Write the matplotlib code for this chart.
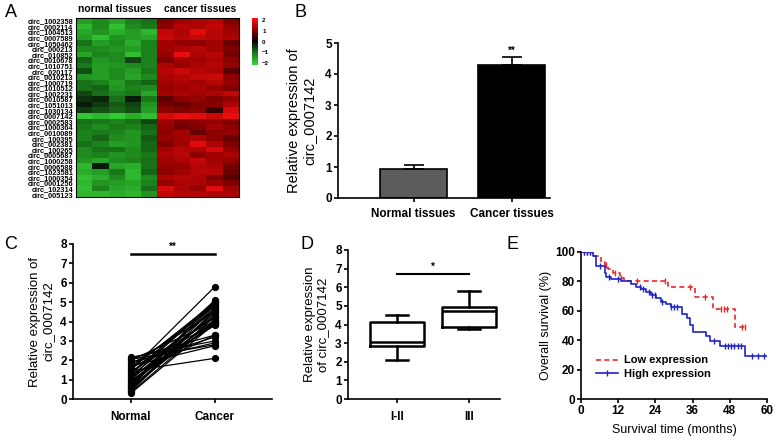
import numpy as np
import matplotlib.pyplot as plt
from matplotlib.colors import LinearSegmentedColormap

plt.rcParams['font.family'] = ['Liberation Sans', 'DejaVu Sans']
plt.rcParams['font.weight'] = 'bold'
plt.rcParams['axes.linewidth'] = 1.2

# ---- data ----
# A: heatmap
circ_names = ["circ_1002358", "circ_0002114", "circ_1004513", "circ_0007589", "circ_1050462",
              "circ_000213", "circ_010852", "circ_0010678", "circ_1010751", "circ_020117",
              "circ_0010213", "circ_1000719", "circ_1010512", "circ_1002231", "circ_0010587",
              "circ_1051013", "circ_1030134", "circ_0007142", "circ_0002583", "circ_1000364",
              "circ_0010089", "circ_100395", "circ_002381", "circ_100265", "circ_0005687",
              "circ_1000258", "circ_0006588", "circ_1023581", "circ_1000354", "circ_0001256",
              "circ_102314", "circ_005123"]
hm_values = [
    [-1.5, -1.3, -1.6, -1.2, -1.0, 1.0, 1.3, 1.4, 1.5, 1.0],
    [-1.8, -1.3, -1.9, -1.3, -1.1, 1.1, 1.5, 1.4, 1.6, 1.2],
    [-1.6, -1.4, -1.7, -1.5, -1.8, 1.6, 1.4, 1.9, 1.5, 1.3],
    [-1.5, -1.9, -1.4, -1.5, -1.6, 1.7, 1.5, 1.6, 1.5, 1.4],
    [-1.0, -1.5, -1.3, -1.7, -1.2, 1.3, 1.2, 1.1, 1.3, 0.8],
    [-1.3, -1.3, -1.4, -1.5, -1.2, 1.3, 1.4, 1.5, 1.3, 1.0],
    [-1.6, -1.2, -1.3, -1.9, -1.2, 1.2, 2.0, 1.4, 1.5, 0.9],
    [-0.9, -1.4, -1.3, -0.6, -1.2, 1.0, 1.3, 1.3, 1.4, 1.1],
    [-1.1, -1.5, -1.4, -1.3, -1.2, 1.4, 1.2, 1.4, 1.5, 1.2],
    [-0.7, -1.5, -1.3, -1.5, -1.1, 1.5, 1.7, 1.5, 1.4, 0.7],
    [-1.4, -1.5, -1.3, -1.6, -1.3, 1.4, 1.5, 1.6, 1.7, 1.1],
    [-1.0, -1.2, -1.5, -1.1, -0.9, 1.3, 1.4, 1.3, 1.5, 1.2],
    [-1.0, -0.9, -1.4, -1.2, -1.3, 1.2, 1.3, 1.4, 1.2, 1.0],
    [-0.6, -1.0, -1.2, -1.1, -1.6, 1.3, 1.4, 1.3, 1.4, 1.6],
    [-0.4, -0.3, -1.0, -0.2, -1.1, 0.7, 1.1, 1.2, 1.0, 1.2],
    [-0.2, -0.5, -0.8, -0.6, -1.4, 0.9, 0.8, 1.0, 1.1, 1.4],
    [-0.5, -0.7, -0.9, -0.7, -1.5, 1.1, 1.0, 1.1, 0.4, 1.8],
    [-2.0, -1.8, -2.0, -1.7, -1.9, 1.8, 2.0, 1.9, 1.7, 2.0],
    [-1.0, -1.1, -1.2, -1.0, -0.6, 1.3, 1.0, 1.1, 1.2, 1.0],
    [-1.1, -1.3, -1.1, -1.2, -0.9, 1.2, 0.9, 1.0, 1.3, 1.1],
    [-1.2, -1.1, -1.2, -1.4, -1.0, 1.1, 1.3, 0.8, 1.1, 1.2],
    [-1.2, -0.9, -1.3, -1.4, -0.8, 1.2, 1.3, 1.4, 1.1, 0.8],
    [-1.0, -1.2, -1.5, -1.4, -0.9, 1.0, 1.3, 1.9, 1.4, 1.0],
    [-1.3, -1.0, -1.0, -1.3, -0.9, 1.3, 1.5, 1.4, 1.8, 1.2],
    [-1.3, -1.2, -1.4, -1.3, -1.1, 1.4, 1.5, 1.1, 1.3, 1.4],
    [-1.4, -1.6, -1.3, -1.2, -1.0, 1.3, 1.4, 1.6, 1.3, 1.2],
    [-1.8, -0.2, -1.6, -1.7, -1.0, 1.2, 1.2, 1.5, 1.4, 0.9],
    [-1.7, -1.5, -1.1, -1.8, -0.9, 1.1, 1.3, 1.5, 1.5, 0.8],
    [-1.9, -1.7, -1.3, -1.8, -1.3, 1.4, 1.5, 1.4, 1.0, 0.7],
    [-1.8, -1.4, -1.5, -1.6, -1.2, 1.2, 1.4, 1.4, 1.2, 1.0],
    [-1.9, -1.2, -1.6, -1.7, -1.0, 1.8, 1.4, 1.2, 1.9, 1.3],
    [-1.8, -1.8, -1.7, -1.8, -1.4, 1.6, 1.5, 1.5, 1.4, 1.4],
]
cbar_ticks = [2, 1, 0, -1, -2]

# B: bar chart
b_groups = ["Normal tissues", "Cancer tissues"]
b_means = [0.92, 4.3]
b_err = [0.13, 0.25]

# C: paired samples
c_groups = ["Normal", "Cancer"]
c_normal = [2.15, 2.1, 2.05, 2.0, 1.9, 1.85, 1.8, 1.7, 1.65, 1.6, 1.5, 1.45, 1.4, 1.35,
            1.3, 1.2, 1.15, 1.1, 1.05, 1.0, 0.95, 0.9, 0.85, 0.8, 0.75, 0.7, 0.65, 0.6,
            0.55, 0.5, 0.45, 0.4, 0.35, 0.3, 1.55, 1.25]
c_cancer = [3.0, 3.3, 2.8, 4.0, 2.9, 3.2, 4.5, 2.75, 4.8, 3.9, 5.8, 2.1, 4.2, 5.0,
            4.9, 4.6, 3.8, 5.1, 4.3, 4.7, 4.0, 3.85, 4.1, 4.95, 4.4, 4.85, 3.95, 5.05,
            4.5, 4.25, 4.75, 4.6, 4.05, 3.9, 5.0, 3.3]

# D: box plot by stage
d_groups = ["I-II", "III"]
d_whislo = [2.1, 3.78]
d_q1 = [2.85, 3.85]
d_med = [3.08, 4.72]
d_q3 = [4.15, 4.92]
d_whishi = [4.5, 5.78]

# E: Kaplan-Meier
low_t = [0, 3.9, 6.3, 7.6, 8.7, 10.3, 12.5, 14, 28.2, 36.8, 42.7, 49.7, 53.2]
low_s = [100, 97.5, 93.4, 91, 88.4, 85.5, 82, 80, 76, 69.5, 61, 49, 49]
low_cens = [1, 2, 3, 8, 11, 13, 18, 27, 35, 40, 45, 46, 47, 52, 53]
high_t = [0, 3.9, 4.9, 7.6, 8.2, 9.7, 12.9, 16, 17.7, 19.4, 21, 22.6, 24.2, 25.8, 27.4,
          29, 32.5, 34.1, 35.2, 36.2, 40.3, 41.6, 44.8, 52.9, 60]
high_s = [100, 97, 90.5, 85.5, 83.2, 81.5, 80, 78, 76.4, 75, 73, 70.7, 68.5, 66.2, 64.4,
          62.8, 58, 55, 50.3, 45.5, 43, 39.7, 36, 29.3, 29.3]
high_cens = [1, 2, 3, 6, 9, 12, 19, 20, 22, 23, 24, 26, 29, 30, 31, 43, 46.5, 47.5, 48.5,
             49.5, 50.5, 51.5, 55, 57, 59]

W, H = 777, 446
fig = plt.figure(figsize=(W / 100, H / 100), dpi=100)


def px_axes(x0, y0, x1, y1):
    return fig.add_axes([x0 / W, 1 - y1 / H, (x1 - x0) / W, (y1 - y0) / H])


def style(ax):
    ax.spines['top'].set_visible(False)
    ax.spines['right'].set_visible(False)
    ax.tick_params(direction='out', length=3, width=1.2, labelsize=8.5, pad=1.5)


# panel letters
for lab, x, y in [("A", 5, 4), ("B", 294, 4), ("C", 4, 236), ("D", 300, 236), ("E", 506, 236)]:
    fig.text(x / W, 1 - y / H, lab, fontsize=13, fontweight='normal', va='top', ha='left')

# ---- A ----
cmap = LinearSegmentedColormap.from_list("gkr", ["#3ad83a", "#1a7a1a", "#050505", "#8c0000", "#ff1010"])
axA = px_axes(76, 18, 239, 197)
data = np.array(hm_values)
im = axA.imshow(data, cmap=cmap, vmin=-2.2, vmax=2.2, aspect='auto', interpolation='nearest')
axA.set_xticks([])
axA.set_yticks(range(len(circ_names)))
axA.set_yticklabels(circ_names, fontsize=5.3)
axA.tick_params(axis='y', length=0, pad=2)
for s in axA.spines.values():
    s.set_linewidth(0.8)
axA.text(1.9, -1.2, "normal tissues", ha='center', va='bottom', fontsize=7.5)
axA.text(7.1, -1.2, "cancer tissues", ha='center', va='bottom', fontsize=7.5)

axCb = px_axes(252, 18, 258, 65)
cb = fig.colorbar(im, cax=axCb, ticks=cbar_ticks)
cb.outline.set_visible(False)
cb.ax.tick_params(length=0, labelsize=4.5, pad=3)

# ---- B ----
axB = px_axes(338, 43, 550, 198)
style(axB)
xb = np.arange(len(b_groups))
axB.bar(xb, b_means, width=0.68, color=["#5c5c5c", "black"], edgecolor='black', linewidth=1.2)
axB.errorbar(xb, b_means, yerr=[[0, 0], b_err], fmt='none', ecolor='black', elinewidth=1.2,
             capsize=7, capthick=1.2)
axB.text(1, b_means[1] + b_err[1] + 0.05, "**", ha='center', va='bottom', fontsize=7)
axB.set_xlim(-0.77, 1.39)
axB.set_ylim(0, 5)
axB.set_yticks(range(0, 6))
axB.set_xticks(xb)
axB.set_xticklabels(b_groups)
axB.tick_params(axis='x', pad=4)
axB.set_ylabel("Relative expression of\ncirc_0007142", fontsize=10.5, labelpad=6)

# ---- C ----
axC = px_axes(73, 244, 272, 399)
style(axC)
for n, c in zip(c_normal, c_cancer):
    axC.plot([0, 1], [n, c], color='black', lw=0.9, marker='o', ms=4.2, mfc='black', mec='black')
axC.plot([0, 1], [7.5, 7.5], color='black', lw=1.8)
axC.text(0.5, 7.6, "**", ha='center', va='bottom', fontsize=7)
axC.set_xlim(-0.69, 1.68)
axC.set_ylim(0, 8)
axC.set_yticks(range(0, 9))
axC.set_xticks([0, 1])
axC.set_xticklabels(c_groups)
axC.tick_params(axis='x', pad=6)
axC.set_ylabel("Relative expression of\ncirc_0007142", fontsize=9.5, labelpad=4)

# ---- D ----
axD = px_axes(348, 250, 500, 399)
style(axD)
stats = []
for i in range(len(d_groups)):
    stats.append(dict(whislo=d_whislo[i], q1=d_q1[i], med=d_med[i], q3=d_q3[i],
                      whishi=d_whishi[i], label=d_groups[i]))
lp = dict(color='black', linewidth=1.8)
axD.bxp(stats, positions=[0, 1], widths=0.76, showfliers=False, boxprops=lp, whiskerprops=lp,
        capprops=lp, medianprops=lp, capwidths=0.3)
axD.plot([0, 1], [6.7, 6.7], color='black', lw=1.5)
axD.text(0.5, 6.85, "*", ha='center', va='bottom', fontsize=7)
axD.set_xlim(-0.68, 1.43)
axD.set_ylim(0, 8)
axD.set_yticks(range(0, 9))
axD.set_xticks([0, 1])
axD.set_xticklabels(d_groups)
axD.tick_params(axis='x', pad=6)
axD.set_ylabel("Relative expression\nof circ_0007142", fontsize=9.5, labelpad=4)

# ---- E ----
axE = px_axes(581, 252, 767, 399)
style(axE)


def surv_at(times, surv, pts):
    idx = np.searchsorted(times, pts, side='right') - 1
    return np.array(surv)[idx]


axE.step(low_t, low_s, where='post', color='#e8262b', lw=1.2, ls=(0, (3, 2)), label="Low expression")
axE.plot(low_cens, surv_at(low_t, low_s, low_cens), ls='none', marker='|', ms=4, mew=1,
         color='#e8262b')
axE.step(high_t, high_s, where='post', color='#1f24c8', lw=1.2)
axE.plot(high_cens, surv_at(high_t, high_s, high_cens), ls='none', marker='|', ms=4, mew=1,
         color='#1f24c8')
axE.plot([], [], color='#1f24c8', lw=1.2, marker='|', ms=4, label="High expression")
axE.legend(loc='lower left', bbox_to_anchor=(0.05, 0.1), frameon=False, fontsize=8,
           handlelength=2.0, labelspacing=0.3, borderpad=0, handletextpad=0.5)
axE.set_xlim(0, 60)
axE.set_ylim(0, 100)
axE.set_xticks(range(0, 61, 12))
axE.set_yticks(range(0, 101, 20))
axE.set_xlabel("Survival time (months)", fontsize=9, labelpad=5)
axE.set_ylabel("Overall survival (%)", fontsize=9, labelpad=2)

fig.savefig("out.png", dpi=100)
